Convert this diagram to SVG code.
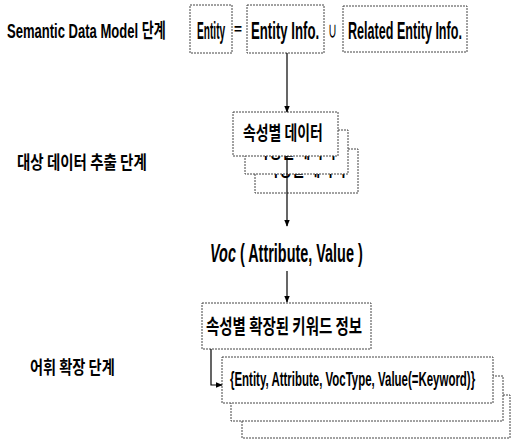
<svg xmlns="http://www.w3.org/2000/svg" width="511" height="441" viewBox="0 0 511 441">
<style>
text{font-family:"Liberation Sans","Noto Sans CJK KR",sans-serif;font-weight:bold;fill:#000}
.k{font-family:"Noto Sans CJK KR","Liberation Sans",sans-serif;font-weight:bold}
.box{fill:#fff;stroke:#444;stroke-width:1;stroke-dasharray:2 1}
.ln{stroke:#000;stroke-width:1.2;fill:none}
</style>
<defs>
<marker id="ah" viewBox="0 0 10 10" refX="9" refY="5" markerWidth="7" markerHeight="7" orient="auto" markerUnits="userSpaceOnUse">
<path d="M0,1 L10,5 L0,9 z" fill="#000"/>
</marker>
</defs>
<rect width="511" height="441" fill="#fff"/>
<g id="labels">
<text transform="translate(7,38) scale(0.64,1)" font-size="20" textLength="248" lengthAdjust="spacingAndGlyphs">Semantic Data Model 단계</text>
<text class="k" transform="translate(17,169) scale(0.75,1)" font-size="18" textLength="173" lengthAdjust="spacingAndGlyphs">대상 데이터 추출 단계</text>
<text class="k" transform="translate(30,374) scale(0.73,1)" font-size="18" textLength="116" lengthAdjust="spacingAndGlyphs">어휘 확장 단계</text>
</g>
<g id="entity">
<rect class="box" x="190" y="5" width="42" height="48"/>
<text transform="translate(197,39) scale(0.42,1)" font-size="24" textLength="67" lengthAdjust="spacingAndGlyphs">Entity</text>
</g>
<text x="234" y="34" font-size="14" textLength="8" lengthAdjust="spacingAndGlyphs">=</text>
<g id="entity-info">
<rect class="box" x="247" y="5" width="77" height="48"/>
<text transform="translate(251,39) scale(0.55,1)" font-size="24" textLength="124" lengthAdjust="spacingAndGlyphs">Entity Info.</text>
</g>
<text x="328" y="37" font-size="16" font-weight="normal" textLength="9" lengthAdjust="spacingAndGlyphs">∪</text>
<g id="related-entity-info">
<rect class="box" x="343" y="6" width="124" height="46"/>
<text transform="translate(348,39) scale(0.525,1)" font-size="24" textLength="217" lengthAdjust="spacingAndGlyphs">Related Entity Info.</text>
</g>
<g id="attr-data">
<rect class="box" x="255" y="149" width="103" height="44"/>
<text class="k" transform="translate(266,176) scale(0.67,1)" font-size="19" textLength="119" lengthAdjust="spacingAndGlyphs">속성별 데이터</text>
<rect class="box" x="245" y="130" width="103" height="44"/>
<text class="k" transform="translate(256,158) scale(0.67,1)" font-size="19" textLength="119" lengthAdjust="spacingAndGlyphs">속성별 데이터</text>
<rect class="box" x="233" y="112" width="105" height="44"/>
<text class="k" transform="translate(243,140) scale(0.67,1)" font-size="19" textLength="119" lengthAdjust="spacingAndGlyphs">속성별 데이터</text>
</g>
<g id="voc">
<text transform="translate(210,262) scale(0.57,1)" font-size="25" textLength="268" lengthAdjust="spacingAndGlyphs"><tspan font-style="italic">Voc</tspan> ( Attribute, Value )</text>
</g>
<g id="expanded-keyword">
<rect class="box" x="202" y="303" width="169" height="46"/>
<text class="k" transform="translate(206,334) scale(0.67,1)" font-size="20" textLength="233" lengthAdjust="spacingAndGlyphs">속성별 확장된 키워드 정보</text>
</g>
<g id="keyword-tuple">
<rect class="box" x="242" y="395" width="268" height="43"/>
<rect class="box" x="231" y="376" width="272" height="45"/>
<rect class="box" x="222" y="357" width="271" height="46"/>
<text transform="translate(230,386) scale(0.54,1)" font-size="21" textLength="454" lengthAdjust="spacingAndGlyphs">{Entity, Attribute, VocType, Value(=Keyword)}</text>
</g>
<g id="connectors">
<line class="ln" x1="287" y1="53" x2="287" y2="112" marker-end="url(#ah)"/>
<line class="ln" x1="287" y1="156" x2="287" y2="226" marker-end="url(#ah)"/>
<line class="ln" x1="287" y1="271" x2="287" y2="302" marker-end="url(#ah)"/>
<polyline class="ln" points="211,349 211,385 222,385" marker-end="url(#ah)"/>
</g>
</svg>
